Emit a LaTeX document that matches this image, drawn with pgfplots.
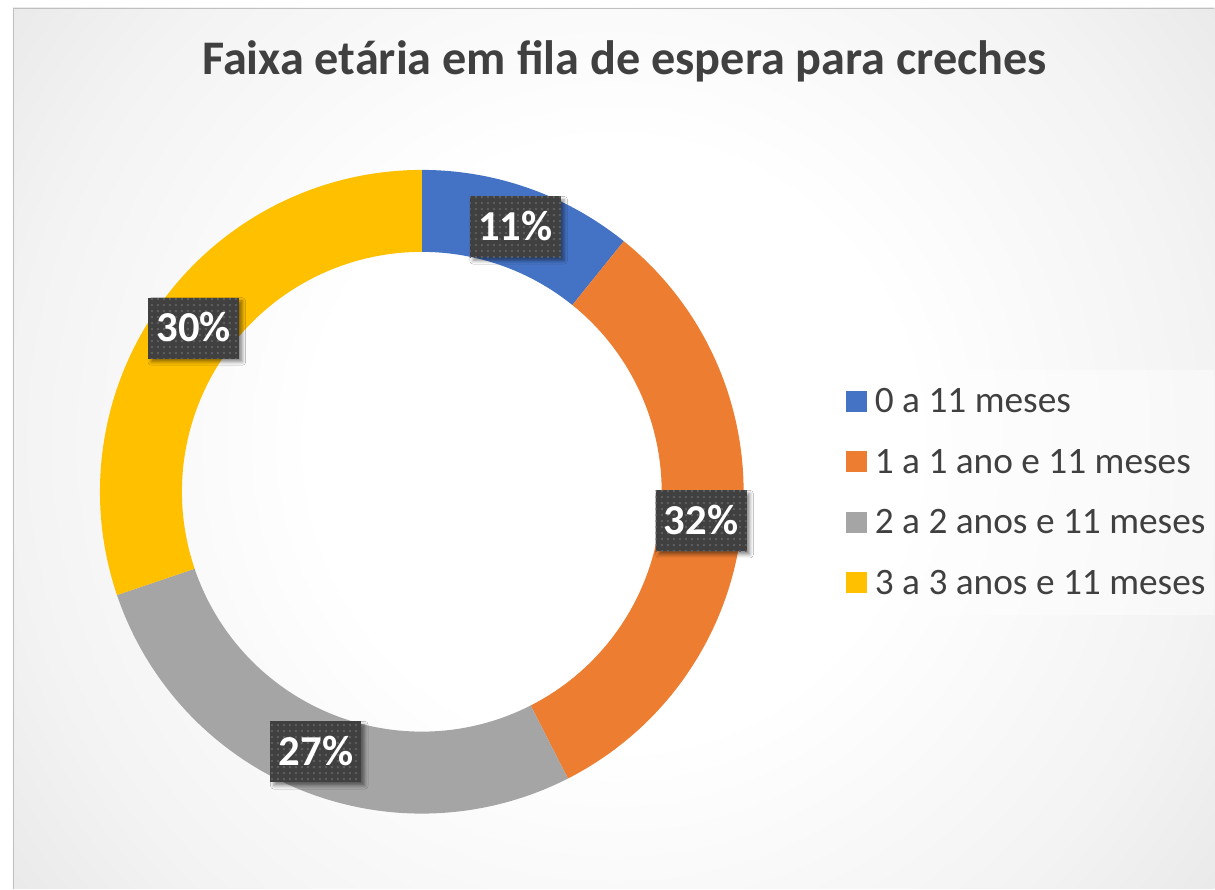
\documentclass[border=0pt]{standalone}
\usepackage{pgfplots}
\pgfplotsset{compat=1.18}
\usepackage{pgfplotstable}
\usepackage{fontspec}
\setmainfont{Carlito}
\usetikzlibrary{patterns.meta,shadows.blur}

\definecolor{cA}{HTML}{4472C4}
\definecolor{cB}{HTML}{ED7D31}
\definecolor{cC}{HTML}{A5A5A5}
\definecolor{cD}{HTML}{FFC000}
\definecolor{txt}{HTML}{404040}
\definecolor{lblbox}{HTML}{404040}
\definecolor{lbldot}{HTML}{5C5C5C}
\definecolor{bg1}{HTML}{F3F3F3}
\definecolor{bg2}{HTML}{E4E4E4}
\definecolor{bg3}{HTML}{D5D5D5}
\definecolor{bg4}{HTML}{C5C5C5}
\definecolor{border}{HTML}{C0C0C0}

\pgfdeclareradialshading{bgshade}{\pgfpoint{0bp}{0bp}}{color(0bp)=(white); color(10bp)=(white); color(20bp)=(bg1); color(28bp)=(bg2); color(40bp)=(bg3); color(50bp)=(bg4)}

\tikzdeclarepattern{
  name=lbldots,
  type=uncolored,
  bottom left={(0pt,0pt)},
  top right={(4.5pt,4.5pt)},
  tile size={(4.5pt,4.5pt)},
  code={\fill (1.5pt,1.5pt) rectangle (3pt,3pt);}
}

\pgfplotstableread{
pct
10.8
31.7
27.3
30.2
}\data

\newcommand\ringseg[3]{%
  \addplot[fill=#3, draw=none, mark=none, domain=0:1, samples=120, variable=\t]
    ({422+322*cos(#1+(#2-#1)*\t)},{397+322*sin(#1+(#2-#1)*\t)})
    -- (axis cs:{422+240*cos(#2)},{397+240*sin(#2)})
    arc[start angle=#2, end angle=#1, radius=180pt] -- cycle;
}

\begin{document}
\begin{tikzpicture}
\pgfplotstablegetelem{0}{pct}\of\data \pgfmathsetmacro\pA{\pgfplotsretval}
\pgfplotstablegetelem{1}{pct}\of\data \pgfmathsetmacro\pB{\pgfplotsretval}
\pgfplotstablegetelem{2}{pct}\of\data \pgfmathsetmacro\pC{\pgfplotsretval}
\pgfplotstablegetelem{3}{pct}\of\data \pgfmathsetmacro\pD{\pgfplotsretval}
\pgfmathsetmacro\aA{90}
\pgfmathsetmacro\aB{\aA-3.6*\pA}
\pgfmathsetmacro\aC{\aB-3.6*\pB}
\pgfmathsetmacro\aD{\aC-3.6*\pC}
\pgfmathsetmacro\aE{\aD-3.6*\pD}
\pgfmathsetmacro\mA{(\aA+\aB)/2}
\pgfmathsetmacro\mB{(\aB+\aC)/2}
\pgfmathsetmacro\mC{(\aC+\aD)/2}
\pgfmathsetmacro\mD{(\aD+\aE)/2}
\pgfmathtruncatemacro\lA{round(\pA)}
\pgfmathtruncatemacro\lB{round(\pB)}
\pgfmathtruncatemacro\lC{round(\pC)}
\pgfmathtruncatemacro\lD{round(\pD)}

\begin{scope}[x=0.75pt,y=0.75pt]
  \fill[white] (0,0) rectangle (1215,889);
  \begin{scope}
    \clip (13,0) rectangle (1215,881);
    \shade[shading=bgshade] (614,445) circle (750);
  \end{scope}
  \draw[border, line width=0.9pt] (13.5,0) -- (13.5,880.5) -- (1215,880.5);
\end{scope}

\begin{axis}[
  at={(0,0)}, anchor=south west,
  x=0.75pt, y=0.75pt,
  xmin=0, xmax=1215, ymin=0, ymax=889,
  hide axis, clip=false,
]
\ringseg{\aA}{\aB}{cA}
\ringseg{\aB}{\aC}{cB}
\ringseg{\aC}{\aD}{cC}
\ringseg{\aD}{\aE}{cD}
\end{axis}

\begin{scope}[x=0.75pt,y=0.75pt,
  lbl/.style={fill=lblbox, postaction={pattern=lbldots, pattern color=lbldot},
    blur shadow={shadow xshift=2.5pt, shadow yshift=-2.5pt, shadow blur radius=2.5pt, shadow opacity=45},
    minimum width=68.25pt, minimum height=45.75pt, inner sep=0pt,
    text=white, font=\fontsize{32}{38}\selectfont\bfseries,
    text height=20.2pt, text depth=0pt}]
  \node[lbl] at ({422+281*cos(\mA)},{397+281*sin(\mA)}) {\lA\%};
  \node[lbl] at ({422+281*cos(\mB)},{397+281*sin(\mB)}) {\lB\%};
  \node[lbl] at ({422+281*cos(\mC)},{397+281*sin(\mC)}) {\lC\%};
  \node[lbl] at ({422+281*cos(\mD)},{397+281*sin(\mD)}) {\lD\%};

  \node[anchor=base, inner sep=0pt, text=txt, font=\fontsize{36.2}{43}\selectfont\bfseries]
    at (625,814) {Faixa etária em fila de espera para creches};

  \fill[white, opacity=0.45] (830,274) rectangle (1215,519);
  \foreach \B/\c/\t in {476/cA/{0 a 11 meses}, 415.5/cB/{1 a 1 ano e 11 meses}, 355/cC/{2 a 2 anos e 11 meses}, 294.5/cD/{3 a 3 anos e 11 meses}}{
    \fill[\c] (846,\B+1) rectangle (867,\B+22);
    \node[anchor=base west, inner sep=0pt, text=txt, font=\fontsize{28}{33}\selectfont] at (875,\B) {\t};
  }
\end{scope}
\end{tikzpicture}
\end{document}
